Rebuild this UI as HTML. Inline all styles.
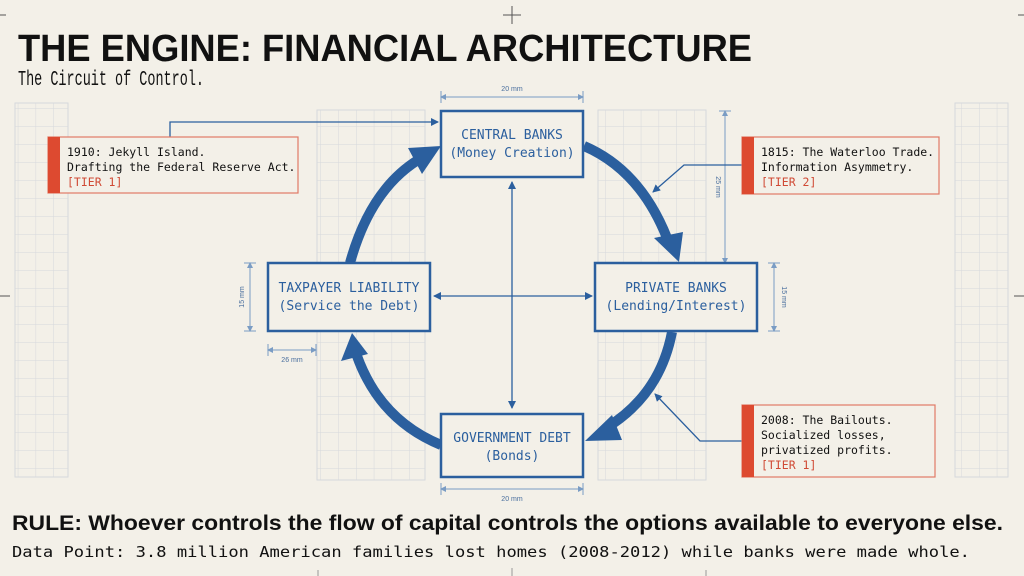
<!DOCTYPE html>
<html><head><meta charset="utf-8"><style>
html,body{margin:0;padding:0;background:#f3f0e8;}
svg{display:block}
.mono{font-family:"DejaVu Sans Mono","Liberation Mono",monospace}
.sans{font-family:"Liberation Sans",sans-serif}
</style></head><body>
<svg width="1024" height="576" viewBox="0 0 1024 576" xmlns="http://www.w3.org/2000/svg">
<defs>
<pattern id="g" width="17.8" height="18" patternUnits="userSpaceOnUse">
<path d="M0 0H17.8M0 0V18" fill="none" stroke="#d6d8dc" stroke-width="1"/>
</pattern>
<marker id="a" markerWidth="8" markerHeight="8" refX="7" refY="4" orient="auto-start-reverse" markerUnits="userSpaceOnUse"><path d="M0 0L8 4L0 8z" fill="#2b5f9e"/></marker>
<marker id="t" markerWidth="6" markerHeight="6" refX="3" refY="3" orient="auto-start-reverse" markerUnits="userSpaceOnUse"><path d="M0 0L6 3L0 6z" fill="#7a9cc4"/></marker>
</defs>
<rect width="1024" height="576" fill="#f3f0e8"/>
<g stroke="#555" stroke-width="1">
<path d="M512 6V24M503 15H521"/><path d="M0 15H6M1018 15H1024M0 296H10M1014 296H1024"/>
</g>
<g>
<rect x="15" y="103" width="53" height="374" fill="url(#g)" stroke="#d6d8dc"/>
<rect x="955" y="103" width="53" height="374" fill="url(#g)" stroke="#d6d8dc"/>
<rect x="317" y="110" width="108" height="370" fill="url(#g)" stroke="#d6d8dc"/>
<rect x="598" y="110" width="108" height="370" fill="url(#g)" stroke="#d6d8dc"/>
</g>
<text x="18" y="61" class="sans" font-size="38" font-weight="bold" fill="#111" textLength="734" lengthAdjust="spacingAndGlyphs">THE ENGINE: FINANCIAL ARCHITECTURE</text>
<text x="18" y="85" font-family="Liberation Mono, monospace" font-size="21" fill="#111" textLength="186" lengthAdjust="spacingAndGlyphs">The Circuit of Control.</text>
<g stroke="#7a9cc4" stroke-width="1" fill="none">
<path d="M443 97H581" marker-start="url(#t)" marker-end="url(#t)"/><path d="M441 91V103M583 91V103"/>
<path d="M443 489H581" marker-start="url(#t)" marker-end="url(#t)"/><path d="M441 483V495M583 483V495"/>
<path d="M725 113V261" marker-start="url(#t)" marker-end="url(#t)"/><path d="M719 111H731M719 263H731"/>
<path d="M774 265V329" marker-start="url(#t)" marker-end="url(#t)"/><path d="M768 263H780M768 331H780"/>
<path d="M250 265V329" marker-start="url(#t)" marker-end="url(#t)"/><path d="M244 263H256M244 331H256"/>
<path d="M270 350H314" marker-start="url(#t)" marker-end="url(#t)"/><path d="M268 344V356M316 344V356"/>
</g>
<g class="sans" font-size="7" fill="#4a6f9e">
<text x="512" y="91" text-anchor="middle">20 mm</text>
<text x="512" y="501" text-anchor="middle">20 mm</text>
<text x="292" y="362" text-anchor="middle">26 mm</text>
<text transform="translate(716,187) rotate(90)" text-anchor="middle">25 mm</text>
<text transform="translate(782,297) rotate(90)" text-anchor="middle">15 mm</text>
<text transform="translate(244,297) rotate(-90)" text-anchor="middle">15 mm</text>
</g>
<g stroke="#2b5f9e" stroke-width="1.3" fill="none">
<path d="M512 182V408" marker-start="url(#a)" marker-end="url(#a)"/>
<path d="M434 296H592" marker-start="url(#a)" marker-end="url(#a)"/>
<path d="M170 137V122H438" marker-end="url(#a)"/>
<path d="M742 165H684L653 192" marker-end="url(#a)"/>
<path d="M742 441H700L655 394" marker-end="url(#a)"/>
</g>
<g stroke="#2b5f9e" stroke-width="10" fill="none">
<path d="M584 146Q640 170 667 238"/>
<path d="M672 332Q660 395 606 428"/>
<path d="M441 445Q380 420 357 356"/>
<path d="M350 263Q370 190 418 160"/>
</g>
<g fill="#2b5f9e">
<polygon points="654,238 683,232 679,262"/>
<polygon points="612,415 622,440 585,441"/>
<polygon points="341,361 368,354 352,333"/>
<polygon points="408,148 422,174 441,146"/>
</g>
<g fill="#f3f0e8" stroke="#2b5f9e" stroke-width="2.5">
<rect x="441" y="111" width="142" height="66"/>
<rect x="268" y="263" width="162" height="68"/>
<rect x="595" y="263" width="162" height="68"/>
<rect x="441" y="414" width="142" height="63"/>
</g>
<g class="mono" font-size="13" fill="#2b5f9e" text-anchor="middle">
<text x="512" y="139">CENTRAL BANKS</text><text x="512" y="157">(Money Creation)</text>
<text x="349" y="292">TAXPAYER LIABILITY</text><text x="349" y="310">(Service the Debt)</text>
<text x="676" y="292">PRIVATE BANKS</text><text x="676" y="310">(Lending/Interest)</text>
<text x="512" y="442">GOVERNMENT DEBT</text><text x="512" y="460">(Bonds)</text>
</g>
<g fill="#f3f0e8" stroke="#e07a66" stroke-width="1.2">
<rect x="48" y="137" width="250" height="56"/>
<rect x="742" y="137" width="197" height="57"/>
<rect x="742" y="405" width="193" height="72"/>
</g>
<g fill="#dd4a30">
<rect x="48" y="137" width="12" height="56"/>
<rect x="742" y="137" width="12" height="57"/>
<rect x="742" y="405" width="12" height="72"/>
</g>
<g class="mono" font-size="11.5" fill="#111">
<text x="67" y="156">1910: Jekyll Island.</text>
<text x="67" y="171">Drafting the Federal Reserve Act.</text>
<text x="67" y="186" fill="#d04a35">[TIER 1]</text>
<text x="761" y="156">1815: The Waterloo Trade.</text>
<text x="761" y="171">Information Asymmetry.</text>
<text x="761" y="186" fill="#d04a35">[TIER 2]</text>
<text x="761" y="424">2008: The Bailouts.</text>
<text x="761" y="439">Socialized losses,</text>
<text x="761" y="454">privatized profits.</text>
<text x="761" y="469" fill="#d04a35">[TIER 1]</text>
</g>
<text x="12" y="530" class="sans" font-size="21" font-weight="bold" fill="#111" textLength="991" lengthAdjust="spacingAndGlyphs">RULE: Whoever controls the flow of capital controls the options available to everyone else.</text>
<text x="12" y="557" class="mono" font-size="15" fill="#111" textLength="958" lengthAdjust="spacingAndGlyphs">Data Point: 3.8 million American families lost homes (2008-2012) while banks were made whole.</text>
<g stroke="#999" stroke-width="1"><path d="M318 570V576M512 568V576M706 570V576"/></g>
</svg>
</body></html>
